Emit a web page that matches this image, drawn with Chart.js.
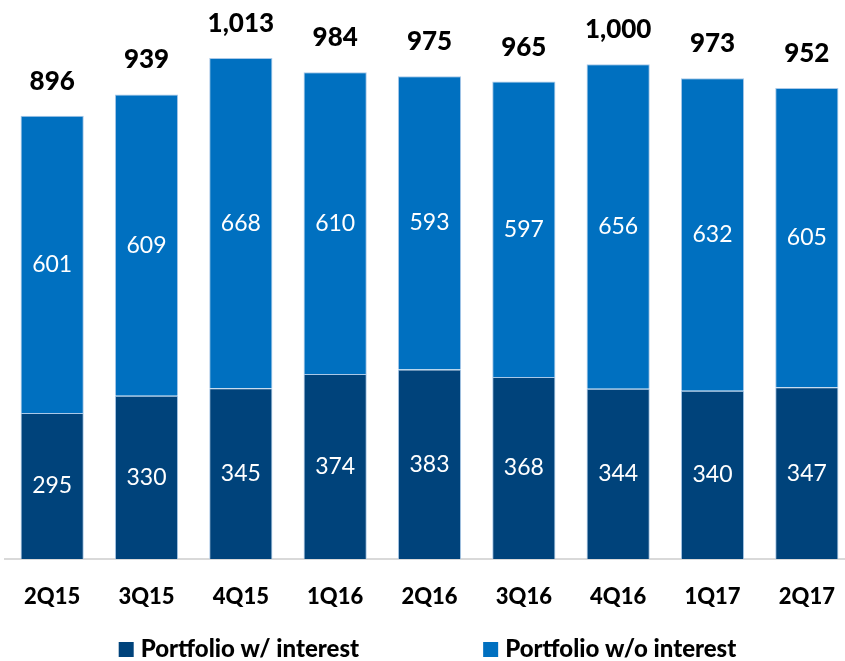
<!DOCTYPE html>
<html>
<head>
<meta charset="utf-8">
<script src="https://cdn.jsdelivr.net/npm/chart.js@4.4.0/dist/chart.umd.min.js"></script>
<style>
  html, body { margin: 0; padding: 0; background: #fff; overflow: hidden; }
  #wrap { width: 855px; height: 661px; }
</style>
</head>
<body>
<div id="wrap"><canvas id="myChart"></canvas></div>
<script>
'use strict';

let quarters = ['2Q15', '3Q15', '4Q15', '1Q16', '2Q16', '3Q16', '4Q16', '1Q17', '2Q17'];
let withInterest = [295, 330, 345, 374, 383, 368, 344, 340, 347];
let withoutInterest = [601, 609, 668, 610, 593, 597, 656, 632, 605];
let totals = [896, 939, 1013, 984, 975, 965, 1000, 973, 952];
let seriesNames = ['Portfolio w/ interest', 'Portfolio w/o interest'];

let darkBlue = '#00437B';
let lightBlue = '#0070C0';
let fontName = 'Lato, "Open Sans", sans-serif';

// numbers inside the bars and totals on top
let barLabels = {
  id: 'barLabels',
  afterDatasetsDraw(chart) {
    let ctx = chart.ctx;
    ctx.save();
    ctx.textAlign = 'center';
    ctx.textBaseline = 'middle';
    ctx.fillStyle = '#fff';
    ctx.font = '23px ' + fontName;
    chart.data.datasets.forEach((ds, i) => {
      chart.getDatasetMeta(i).data.forEach((bar, j) => {
        ctx.fillText(ds.data[j], bar.x, (bar.y + bar.base) / 2);
      });
    });
    ctx.fillStyle = '#000';
    ctx.font = '900 26px ' + fontName;
    ctx.textBaseline = 'alphabetic';
    chart.getDatasetMeta(1).data.forEach((bar, j) => {
      ctx.fillText(totals[j].toLocaleString('en-US'), bar.x, bar.y - 26);
    });
    ctx.restore();
  }
};

// legend row at the bottom, centred
let bottomLegend = {
  id: 'bottomLegend',
  afterDraw(chart) {
    let ctx = chart.ctx;
    ctx.save();
    ctx.font = '900 24px ' + fontName;
    ctx.textBaseline = 'alphabetic';
    ctx.textAlign = 'left';
    let box = 15;
    let gap = 7;
    let spacing = 124;
    let widths = seriesNames.map(n => ctx.measureText(n).width);
    let total = widths[0] + widths[1] + 2 * (box + gap) + spacing;
    let x = (chart.width - total) / 2;
    let y = chart.height - 4;
    chart.data.datasets.forEach((ds, i) => {
      ctx.fillStyle = ds.backgroundColor;
      ctx.fillRect(x, y - box, box, box);
      ctx.fillStyle = '#000';
      ctx.fillText(seriesNames[i], x + box + gap, y);
      x += box + gap + widths[i] + spacing;
    });
    ctx.restore();
  }
};

let ctx = document.getElementById('myChart').getContext('2d');
let chart = new Chart(ctx, {
  type: 'bar',
  data: {
    labels: quarters,
    datasets: [{
      label: seriesNames[0],
      data: withInterest,
      backgroundColor: darkBlue,
      borderColor: '#A9C8E8',
      borderWidth: 1,
      barPercentage: 0.67,
      categoryPercentage: 1
    }, {
      label: seriesNames[1],
      data: withoutInterest,
      backgroundColor: lightBlue,
      borderColor: '#A9C8E8',
      borderWidth: 1,
      barPercentage: 0.67,
      categoryPercentage: 1
    }]
  },
  options: {
    responsive: true,
    maintainAspectRatio: false,
    animation: false,
    layout: { padding: { left: 5, right: 1, top: 0, bottom: 48 } },
    plugins: {
      legend: { display: false },
      tooltip: { enabled: false }
    },
    scales: {
      x: {
        stacked: true,
        grid: { display: false },
        border: { color: '#D9D9D9', width: 2 },
        ticks: {
          color: '#000',
          padding: 17,
          font: { family: fontName, size: 22, weight: 900 }
        },
        afterFit: (axis) => { axis.height = 54; }
      },
      y: {
        stacked: true,
        display: false,
        min: 0,
        max: 1130
      }
    }
  },
  plugins: [barLabels, bottomLegend]
});
</script>
</body>
</html>
